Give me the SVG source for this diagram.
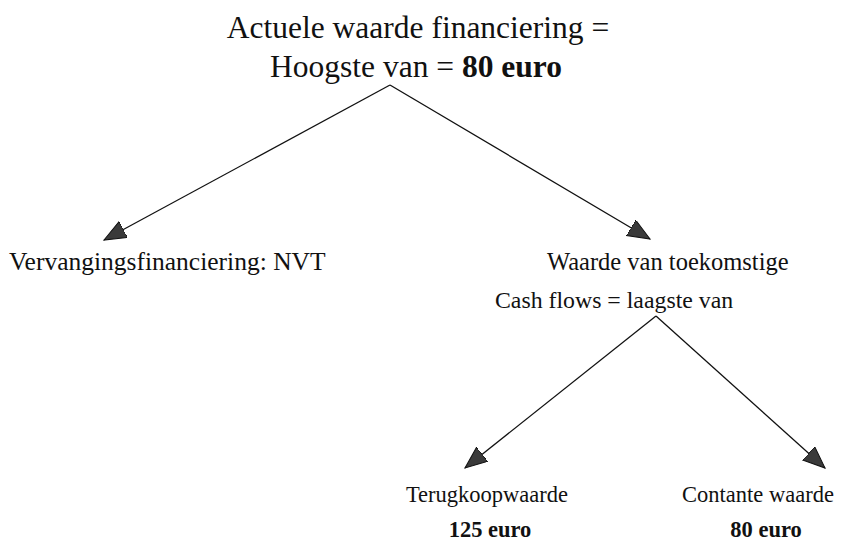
<svg xmlns="http://www.w3.org/2000/svg" width="846" height="542" viewBox="0 0 846 542">
<defs>
<style>
text{font-family:"Liberation Serif","Times New Roman",serif;fill:#111}
.t{font-size:31.5px}
.m{font-size:24.5px}
.b{font-size:22.5px}
.bold{font-weight:bold}
.c line{stroke:#111;stroke-width:1.3;fill:none}
</style>
<marker id="ah" markerUnits="userSpaceOnUse" markerWidth="24" markerHeight="20" refX="22" refY="9" orient="auto" viewBox="0 0 24 20">
<path d="M0,0 L22,9 L0,18 Z" fill="#3a3a3a" stroke="#111" stroke-width="1"/>
</marker>
</defs>
<rect width="846" height="542" fill="#fff"/>
<g id="root">
<text class="t" x="418" y="38" text-anchor="middle">Actuele waarde financiering =</text>
<text class="t" x="416" y="77" text-anchor="middle">Hoogste van = <tspan class="bold">80 euro</tspan></text>
</g>
<g id="vervanging">
<text class="m" x="9" y="270" style="font-size:25.5px">Vervangingsfinanciering: NVT</text>
</g>
<g id="toekomstig">
<text class="m" x="547" y="270">Waarde van toekomstige</text>
<text class="m" x="495" y="308" style="font-size:23.8px">Cash flows = laagste van</text>
</g>
<g id="terugkoop">
<text class="b" x="487" y="502" text-anchor="middle">Terugkoopwaarde</text>
<text class="b bold" x="490" y="537" text-anchor="middle">125 euro</text>
</g>
<g id="contant">
<text class="b" x="758" y="502" text-anchor="middle">Contante waarde</text>
<text class="b bold" x="766" y="537" text-anchor="middle">80 euro</text>
</g>
<g class="c" id="connectors">
<line x1="390" y1="85" x2="104" y2="240" marker-end="url(#ah)"/>
<line x1="390" y1="85" x2="650" y2="239" marker-end="url(#ah)"/>
<line x1="656" y1="316" x2="465" y2="468" marker-end="url(#ah)"/>
<line x1="656" y1="316" x2="825" y2="468" marker-end="url(#ah)"/>
</g>
</svg>
